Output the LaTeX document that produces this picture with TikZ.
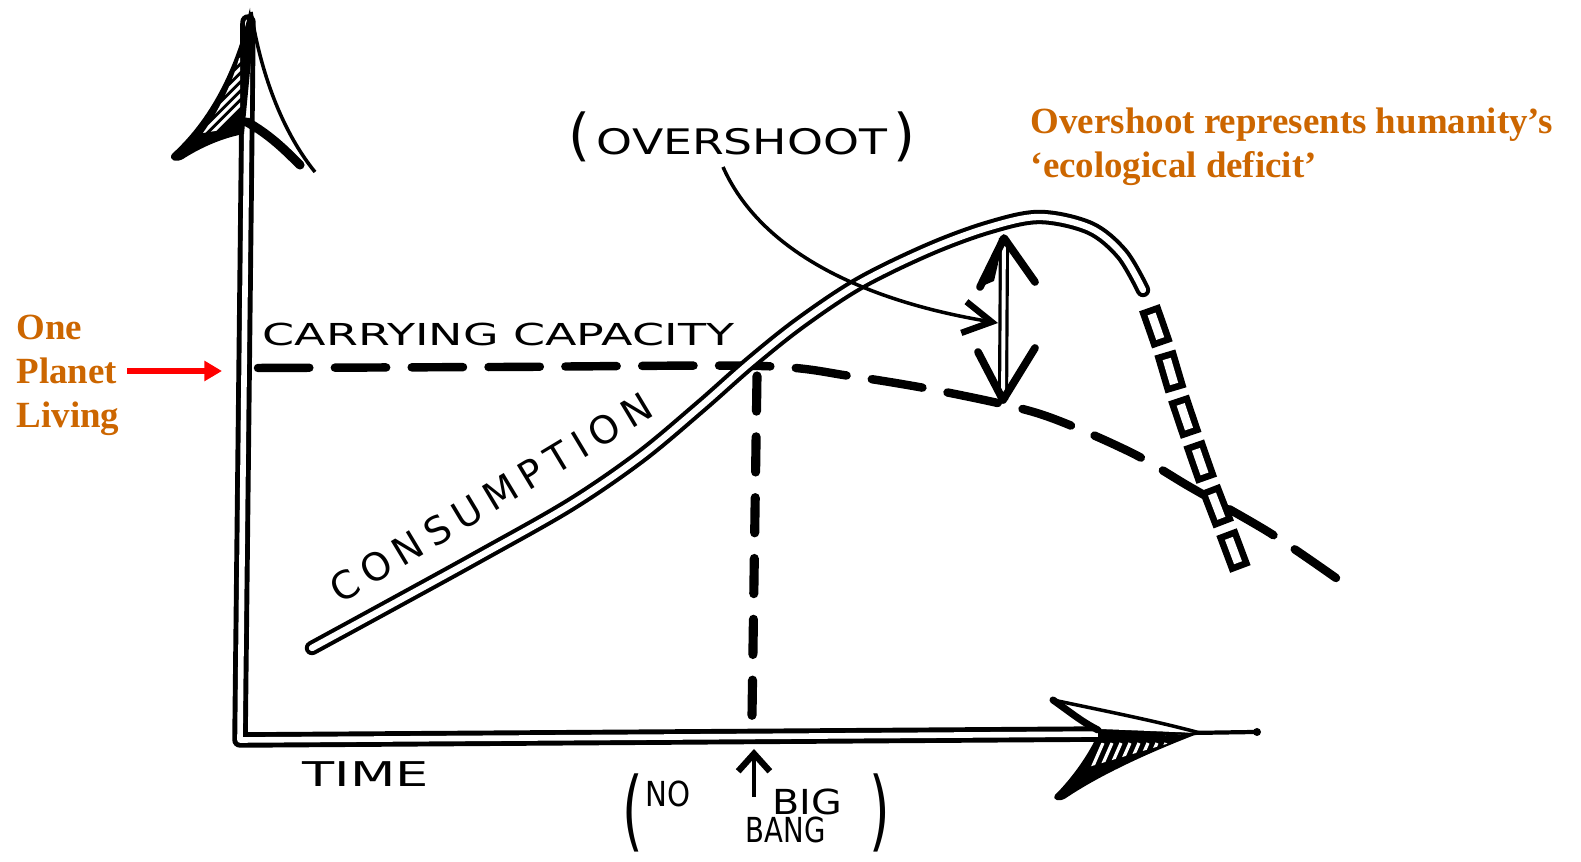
\documentclass[tikz,border=0pt]{standalone}
\usepackage{fontspec}
\setmainfont{Liberation Serif}
\newfontfamily\handfont{DejaVu Sans}
\usetikzlibrary{arrows.meta}
\definecolor{noteorange}{RGB}{204,102,0}
\newcommand{\wide}[2]{\scalebox{#1}[1]{#2}}
\tikzset{
  axisline/.style={draw=black, line width=1.4pt, double=white, double distance=1.6pt, line cap=round, line join=round},
  consline/.style={draw=black, line width=1.15pt, double=white, double distance=1.8pt, line cap=round, line join=round},
  consdash/.style={draw=black, line width=1.9pt, double=white, double distance=2.4pt, line cap=rect, dash pattern=on 5pt off 8.5pt},
  shaftline/.style={draw=black, line width=0.9pt, double=white, double distance=1.1pt},
  capline/.style={line width=2.4pt, line cap=round, dash pattern=on 14.6pt off 7.25pt},
  bangline/.style={line width=2.6pt, line cap=round, dash pattern=on 10pt off 7.3pt},
  barbline/.style={line width=2.2pt, line cap=round, line join=round},
  pointer/.style={line width=1pt, -{Straight Barb[length=8pt,width=9pt,line width=1.8pt]}},
  redarrow/.style={draw=red, line width=1.7pt, -{Triangle[length=5pt,width=5.5pt]}},
  handtext/.style={font=\handfont, inner sep=0pt},
  notetext/.style={font=\bfseries\fontsize{10.5}{12.6}\selectfont, text=noteorange, inner sep=0pt, align=left},
}
\begin{document}
\begin{tikzpicture}[x=0.01cm, y=-0.01cm]
\useasboundingbox (0,0) rectangle (1581,862);
% points on the sketch
\coordinate (yaxtop) at (248,22);
\coordinate (origin) at (240,740);
\coordinate (xaxend) at (1110,734);
\coordinate (olptip) at (222,371);
\coordinate (ostop) at (1004,238);
\coordinate (osbot) at (1003,400);
\coordinate (ostip) at (998,323);
\coordinate (ovsfoot) at (723,167);
\coordinate (bangtail) at (754,797);
\coordinate (bangtip) at (754,749);

% axes
\draw[axisline] (yaxtop) -- (origin) -- (xaxend);
% y arrowhead, left barb with hatching
\fill (250,8) .. controls (238,60) and (215,115) .. (172,154)
  .. controls (168,160) and (176,163) .. (183,159)
  .. controls (200,148) and (222,138) .. (244,134) -- (253,40) -- cycle;
\begin{scope}
  \clip (240,55) -- (240,127) -- (203,133) .. controls (218,112) and (232,85) .. (240,55) -- cycle;
  \foreach \k in {0,...,10}
    \draw[white, line width=0.9pt] (195,150-\k*9) -- ++(55,-55);
\end{scope}
\draw[line width=1pt] (251,12) .. controls (262,80) and (285,135) .. (315,172);
\draw[barbline, line width=2.6pt] (247,122) .. controls (270,135) and (285,150) .. (300,165);
% x arrowhead
\fill (1098,728) -- (1200,733) -- (1098,741) -- cycle;
\draw[line width=1.2pt] (1190,733) -- (1255,732);
\fill (1257,732) circle (4);
\fill[white] (1053,700) .. controls (1110,712) and (1160,722) .. (1200,733) -- (1100,729) -- cycle;
\draw[line width=1pt] (1053,700) .. controls (1110,712) and (1160,722) .. (1200,733);
\draw[barbline, line width=2pt] (1053,700) .. controls (1070,712) and (1082,722) .. (1098,730);
\fill (1200,733) -- (1095,740) .. controls (1085,760) and (1070,780) .. (1055,795)
  .. controls (1052,801) and (1060,802) .. (1066,798)
  .. controls (1100,775) and (1150,752) .. (1200,733) -- cycle;
\begin{scope}
  \clip (1180,740) -- (1100,743) .. controls (1095,755) and (1090,762) .. (1085,768) -- cycle;
  \foreach \k in {0,...,10}
    \draw[white, line width=0.9pt] (1080+\k*9,775) -- ++(14,-32);
\end{scope}

% carrying capacity
\draw[capline] plot[smooth, tension=0.5] coordinates {(258,368) (500,367) (760,366) (850,376) (940,391) (1040,414) (1130,452) (1190,487) (1270,533) (1336,578)};
% no big bang line
\draw[bangline] (757,376) -- (752,716);
% consumption
\draw[consline] plot[smooth, tension=0.55] coordinates {(312,648) (400,600) (480,556) (570,505) (640,457) (700,407) (750,363) (800,323) (860,283) (930,249) (990,227) (1040,217) (1090,228) (1122,254) (1143,290)};
\draw[consdash] plot[smooth] coordinates {(1153,318) (1164,350) (1176,390) (1190,432) (1206,478) (1222,520) (1240,568)};

% overshoot gap
\draw[shaftline] (ostop) -- (osbot);
\fill (ostop) -- ++(-24,49) -- ++(14,-6) -- cycle;
\draw[barbline] (ostop) ++(-24,49) -- (ostop) -- ++(31,44);
\draw[barbline] (osbot) ++(-25,-48) -- (osbot) -- ++(32,-52);
\draw[pointer] (ovsfoot) .. controls (760,250) and (860,300) .. (ostip);
\draw[pointer, -{Straight Barb[length=5pt,width=9pt,line width=1.8pt]}] (bangtail) -- (bangtip);

% hand labels
\node[handtext, font=\handfont\fontsize{10}{10}\selectfont] (ovs) at (742,137)
  {{\fontsize{16}{16}\selectfont(}\,\wide{1.3}{OVERSHOOT}\,{\fontsize{16}{16}\selectfont)}};
\node[handtext, font=\handfont\fontsize{8.6}{9}\selectfont, anchor=base west] (cap) at (262,346)
  {\wide{1.52}{CARRYING CAPACITY}};
\node[handtext, font={\handfont\fontsize{10.9}{11}\selectfont\addfontfeatures{LetterSpace=21}}, rotate=31] (cons) at (491,498)
  {CONSUMPTION};
\node[handtext, font=\handfont\fontsize{9.7}{10}\selectfont, anchor=base west] (time) at (302,787)
  {\wide{1.54}{TIME}};
\node[handtext, font=\handfont\fontsize{9.8}{10}\selectfont, anchor=base west] (no) at (645,807)
  {\wide{0.85}{NO}};
\node[handtext, font=\handfont\fontsize{9.8}{10}\selectfont, anchor=base west] (big) at (772,815)
  {\wide{1.15}{BIG}};
\node[handtext, font=\handfont\fontsize{9.8}{10}\selectfont, anchor=base west] (bang) at (745,843)
  {\wide{0.8}{BANG}};
\node[handtext, font=\handfont\fontsize{25}{25}\selectfont] (lpar) at (633,813) {\wide{0.6}{(}};
\node[handtext, font=\handfont\fontsize{25}{25}\selectfont] (rpar) at (880,813) {\wide{0.6}{)}};

% notes
\node[notetext, anchor=north west] (olp) at (16,314) {One\\Planet\\Living};
\draw[redarrow, shorten <=2pt] (olp.east |- olptip) -- (olptip);
\node[notetext, anchor=north west] (deficit) at (1030,107)
  {Overshoot represents humanity’s\\‘ecological deficit’};
\end{tikzpicture}
\end{document}
